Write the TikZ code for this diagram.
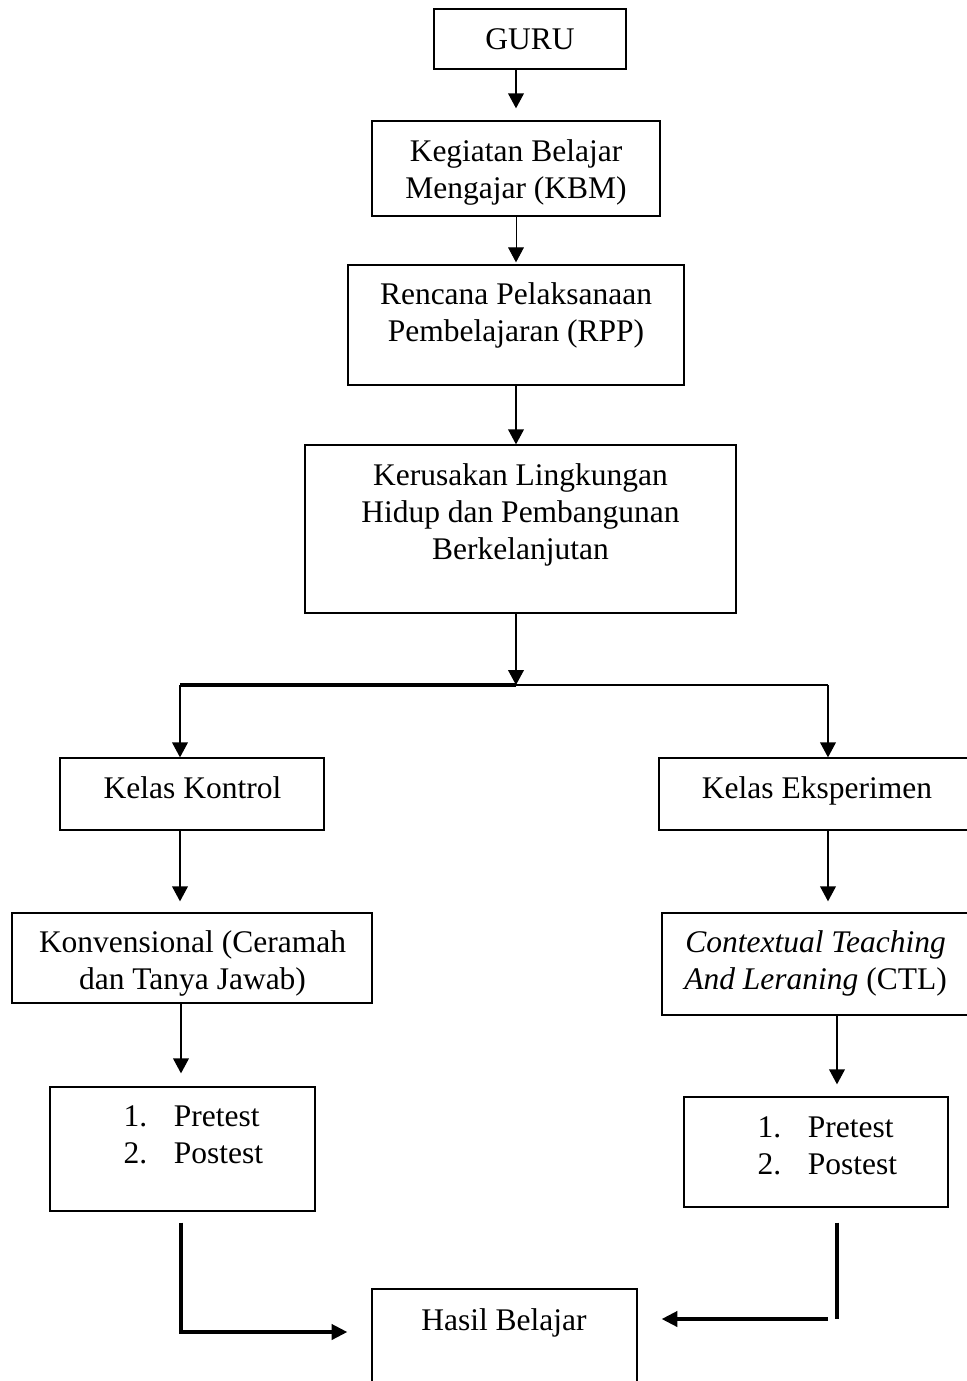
\documentclass[tikz,border=0pt]{standalone}
\usepackage{fontspec}
\setmainfont{Liberation Serif}
\usetikzlibrary{arrows.meta}
\newdimen\pxu
\pxu=0.381pt
\tikzset{
  box/.style={draw, line width=0.5pt, inner sep=0pt},
  txt/.style={inner sep=0pt, align=center, font=\fontsize{12}{14.1}\selectfont},
  lst/.style={inner sep=0pt, align=left, font=\fontsize{12}{14.1}\selectfont},
  arr/.style={line width=0.5pt, -{Triangle[length=5.7pt,width=6pt]}},
  bigarr/.style={line width=1.3pt, -{Triangle[length=6pt,width=5.8pt]}},
}
\newcommand{\num}[1]{\makebox[1.6em][l]{#1}}

\begin{document}
\begin{tikzpicture}[x=0.381pt, y=-0.381pt]
  \useasboundingbox (0,0) rectangle (966,1381);
  % boxes
  \node[box, minimum width=192\pxu, minimum height=60\pxu] (guru) at (530,39) {};
  \node[box, minimum width=288\pxu, minimum height=95\pxu] (kbm) at (516,168.5) {};
  \node[box, minimum width=336\pxu, minimum height=120\pxu] (rpp) at (516,325) {};
  \node[box, minimum width=431\pxu, minimum height=168\pxu] (ker) at (520.5,529) {};
  \node[box, minimum width=264\pxu, minimum height=72\pxu] (kontrol) at (192,794) {};
  \node[box, minimum width=309\pxu, minimum height=72\pxu] (eksp) at (813.5,794) {};
  \node[box, minimum width=360\pxu, minimum height=90\pxu] (konv) at (192,958) {};
  \node[box, minimum width=308\pxu, minimum height=102\pxu] (ctl) at (816,964) {};
  \node[box, minimum width=265\pxu, minimum height=124\pxu] (pre1) at (182.5,1149) {};
  \node[box, minimum width=264\pxu, minimum height=110\pxu] (pre2) at (816,1152) {};
  \node[box, minimum width=265\pxu, minimum height=142\pxu] (hasil) at (504.5,1360) {};

  % texts
  \node[txt, anchor=base] (guruT) at (530,50) {GURU};
  \node[txt, anchor=north] (kbmT) at (516,139.5) {Kegiatan Belajar\\Mengajar (KBM)};
  \node[txt, anchor=north] (rppT) at (516,282.5) {Rencana Pelaksanaan\\Pembelajaran (RPP)};
  \node[txt, anchor=north] (kerT) at (520.5,463.5) {Kerusakan Lingkungan\\Hidup dan Pembangunan\\Berkelanjutan};
  \node[txt, anchor=base] (kontrolT) at (192.5,798) {Kelas Kontrol};
  \node[txt, anchor=base] (ekspT) at (817,798) {Kelas Eksperimen};
  \node[txt, anchor=north] (konvT) at (192.5,930.5) {Konvensional (Ceramah\\dan Tanya Jawab)};
  \node[txt, anchor=north] (ctlT) at (815.5,930.5) {\textit{Contextual Teaching}\\\textit{And Leraning} (CTL)};
  \node[lst, anchor=north west] (pre1T) at (123,1105) {\num{1.}Pretest\\\num{2.}Postest};
  \node[lst, anchor=north west] (pre2T) at (757,1116) {\num{1.}Pretest\\\num{2.}Postest};
  \node[txt, anchor=base] (hasilT) at (504,1330) {Hasil Belajar};

  % connectors
  \coordinate (split) at (516,685);
  \coordinate (splitL) at (180,685);
  \coordinate (splitR) at (828,685);
  \coordinate (lbend) at (181,1332);
  \coordinate (rbend) at (837,1319);
  \coordinate (rjoin) at (828,1319);

  \draw[arr, shorten >=12\pxu] (guru.south -| kbm.north) -- (kbm.north);
  \draw[line width=0.35pt, -{Triangle[length=5.7pt,width=6pt]}, shorten >=2\pxu] (kbm.south) -- (rpp.north);
  \draw[arr] (rpp.south) -- (rpp.south |- ker.north);
  \draw[arr] (ker.south -| split) -- (split);
  \draw[line width=1.3pt] (split) -- (splitL);
  \draw[line width=1.05pt] (split) -- (splitR);
  \draw[arr] (splitL) -- (splitL |- kontrol.north);
  \draw[arr] (splitR) -- (splitR |- eksp.north);
  \draw[arr, shorten >=11\pxu] (kontrol.south -| splitL) -- (konv.north -| splitL);
  \draw[arr, shorten >=11\pxu] (eksp.south -| splitR) -- (ctl.north -| splitR);
  \draw[arr, shorten >=13\pxu] (konv.south -| lbend) -- (pre1.north -| lbend);
  \draw[arr, shorten >=12\pxu] (ctl.south -| rbend) -- (pre2.north -| rbend);
  \draw[bigarr, shorten <=11\pxu, shorten >=24\pxu] (pre1.south -| lbend) -- (lbend) -- (lbend -| hasil.west);
  \draw[line width=1.3pt, shorten <=15\pxu] (pre2.south -| rbend) -- (rbend);
  \draw[bigarr, shorten >=24\pxu] (rjoin) -- (rjoin -| hasil.east);
\end{tikzpicture}
\end{document}
